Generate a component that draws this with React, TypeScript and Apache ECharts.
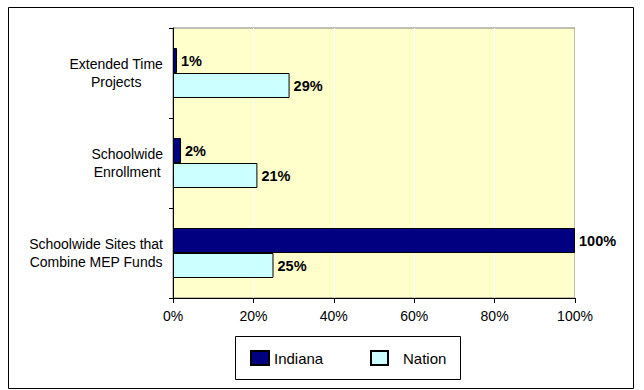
import React, { useEffect, useRef } from "react";
import * as echarts from "echarts";

const categories = [
  "Extended Time\nProjects",
  "Schoolwide\nEnrollment",
  "Schoolwide Sites that\nCombine MEP Funds",
];
const indianaValues = [1, 2, 100];
const nationValues = [29, 21, 25];
const xTicks = [0, 20, 40, 60, 80, 100];

const FONT = "'Liberation Sans', Arial, sans-serif";

export default function App() {
  const ref = useRef<HTMLDivElement>(null);
  useEffect(() => {
    document.body.style.margin = "0";
    const chart = echarts.init(ref.current!, null, { renderer: "svg" });
    const labelStyle = {
      show: true,
      position: "right" as const,
      distance: 4,
      formatter: "{c}%",
      color: "#000",
      fontWeight: "bold" as const,
      fontSize: 14.5,
      fontFamily: FONT,
    };
    chart.setOption({
      animation: false,
      backgroundColor: "#fff",
      textStyle: { fontFamily: FONT },
      graphic: [
        {
          type: "rect",
          z: 0,
          shape: { x: 8.5, y: 7.5, width: 625, height: 381 },
          style: { fill: "none", stroke: "#000", lineWidth: 1 },
        },
        {
          type: "rect",
          z: 0,
          shape: { x: 235.5, y: 336.5, width: 225, height: 43 },
          style: { fill: "#fff", stroke: "#000", lineWidth: 1 },
        },
      ],
      legend: [
        {
          data: ["Indiana"],
          left: 250,
          top: 350,
          padding: 0,
          icon: "rect",
          itemWidth: 18,
          itemHeight: 14,
          itemGap: 0,
          textStyle: { fontSize: 15, color: "#000", fontFamily: FONT },
        },
        {
          data: ["Nation"],
          left: 370,
          top: 350,
          padding: 0,
          icon: "rect",
          itemWidth: 17,
          itemHeight: 14,
          itemGap: 0,
          textStyle: {
            fontSize: 15,
            color: "#000",
            fontFamily: FONT,
            padding: [0, 0, 0, 10],
          },
        },
      ],
      grid: {
        left: 173,
        right: 69,
        top: 28,
        bottom: 92,
        show: true,
        backgroundColor: "#FFFFCC",
        borderColor: "#808080",
        borderWidth: 1,
      },
      xAxis: {
        type: "value",
        min: xTicks[0],
        max: xTicks[xTicks.length - 1],
        interval: 20,
        axisLine: { show: true, lineStyle: { color: "#000" } },
        axisTick: { show: true, length: 5, lineStyle: { color: "#000" } },
        splitLine: { show: true, lineStyle: { color: "#fff", width: 1 } },
        axisLabel: {
          formatter: "{value}%",
          color: "#000",
          fontSize: 14,
          fontFamily: FONT,
          margin: 11,
        },
      },
      yAxis: {
        type: "category",
        inverse: true,
        data: categories,
        axisLine: { show: true, lineStyle: { color: "#000" } },
        axisTick: { show: true, length: 4, lineStyle: { color: "#000" } },
        axisLabel: {
          margin: 10,
          color: "#000",
          formatter: (v: string) =>
            v
              .split("\n")
              .map((l) => `{a|${l}}`)
              .join("\n"),
          rich: {
            a: {
              align: "center",
              fontSize: 14,
              lineHeight: 18,
              color: "#000",
              fontFamily: FONT,
            },
          },
        },
      },
      series: [
        {
          name: "Indiana",
          type: "bar",
          data: indianaValues,
          barWidth: 25,
          barGap: "0%",
          itemStyle: { color: "#000080", borderColor: "#000", borderWidth: 1 },
          label: labelStyle,
        },
        {
          name: "Nation",
          type: "bar",
          data: nationValues,
          barWidth: 25,
          barGap: "0%",
          itemStyle: { color: "#CCFFFF", borderColor: "#000", borderWidth: 1 },
          label: labelStyle,
        },
      ],
    });
    return () => chart.dispose();
  }, []);
  return <div ref={ref} style={{ width: 644, height: 390 }} />;
}
